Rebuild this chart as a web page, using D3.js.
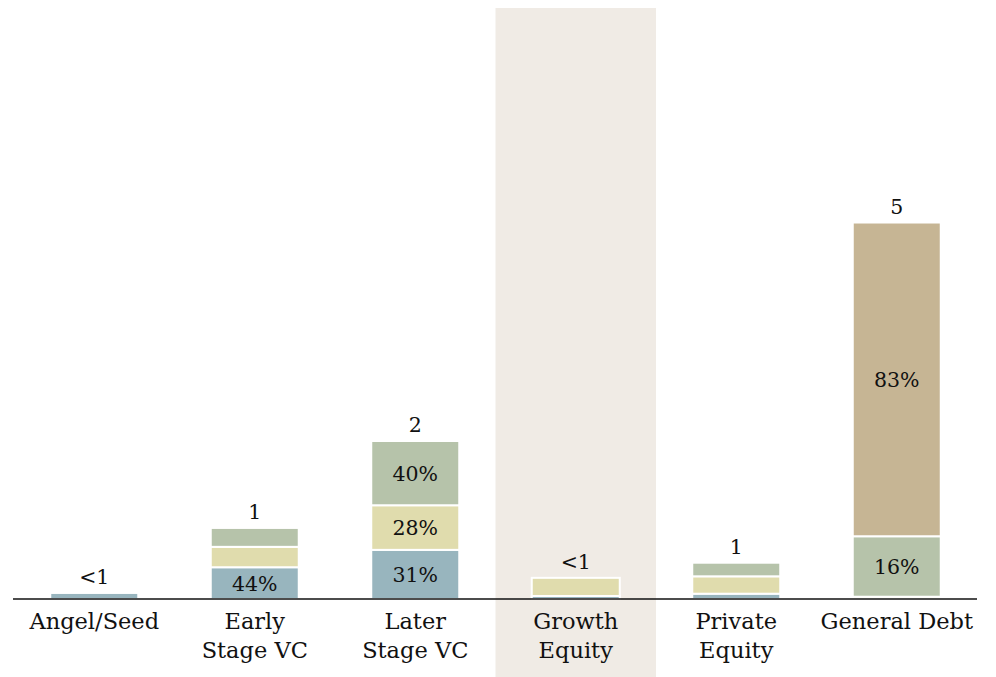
<!DOCTYPE html>
<html>
<head>
<meta charset="utf-8">
<script src="https://cdn.jsdelivr.net/npm/d3@7"></script>
<style>
  html, body { margin: 0; padding: 0; background: #fff; }
  svg { display: block; font-family: "DejaVu Serif", Georgia, serif; }
</style>
</head>
<body>
<svg id="chart" width="996" height="677"></svg>
<script>
// Investment categories along the x axis (two-line labels split on "\n")
const categories = ["Angel/Seed", "Early\nStage VC", "Later\nStage VC", "Growth\nEquity", "Private\nEquity", "General Debt"];
const categoryKeys = ["angel", "early", "later", "growth", "private", "debt"];

// Stacked segment values per category (bottom to top)
const seriesKeys = ["s1", "s2", "s3", "s4"];
const s1Values = [0.08, 0.42, 0.65, 0.04, 0.07, 0.00];
const s2Values = [0.00, 0.27, 0.59, 0.24, 0.23, 0.03];
const s3Values = [0.00, 0.25, 0.85, 0.00, 0.18, 0.80];
const s4Values = [0.00, 0.00, 0.00, 0.00, 0.00, 4.15];
const seriesColors = ["#98b5be", "#e0dcad", "#b6c3aa", "#c6b594"];

// Total labels over each bar
const totalLabels = ["<1", "1", "2", "<1", "1", "5"];

// Share labels written inside segments: [category index, series index, text]
const shareLabels = [
  [1, 0, "44%"],
  [2, 0, "31%"], [2, 1, "28%"], [2, 2, "40%"],
  [5, 2, "16%"], [5, 3, "83%"]
];

const highlighted = "growth";

const svg = d3.select("#chart");
const W = 996, H = 677;
const margin = { left: 14, right: 19, top: 8, bottom: 78 };
const baseY = H - margin.bottom;

const rows = categoryKeys.map((k, i) => ({
  key: k, s1: s1Values[i], s2: s2Values[i], s3: s3Values[i], s4: s4Values[i]
}));

const x = d3.scaleBand().domain(categoryKeys).range([margin.left, W - margin.right]).paddingInner(0).paddingOuter(0);
const y = d3.scaleLinear().domain([0, 5]).range([baseY, 221]);
const barW = 88;

// Highlight band behind one category
svg.append("rect")
  .attr("x", x(highlighted))
  .attr("y", margin.top)
  .attr("width", x.bandwidth())
  .attr("height", H - margin.top)
  .attr("fill", "#f0ebe5");

const stack = d3.stack().keys(seriesKeys);
const layers = stack(rows);

const g = svg.append("g");
layers.forEach((layer, si) => {
  g.selectAll(null)
    .data(layer.filter(d => d[1] - d[0] > 0))
    .join("rect")
    .attr("x", d => x(d.data.key) + (x.bandwidth() - barW) / 2)
    .attr("y", d => y(d[1]))
    .attr("width", barW)
    .attr("height", d => y(d[0]) - y(d[1]))
    .attr("fill", seriesColors[si])
    .attr("stroke", "#fff")
    .attr("stroke-width", 2);
});

// Percent labels centred in segments
shareLabels.forEach(([ci, si, txt]) => {
  const d = layers[si][ci];
  svg.append("text")
    .attr("x", x(categoryKeys[ci]) + x.bandwidth() / 2)
    .attr("y", (y(d[0]) + y(d[1])) / 2)
    .attr("dy", "0.36em")
    .attr("text-anchor", "middle")
    .attr("font-size", 20.5)
    .attr("fill", "#111")
    .text(txt);
});

// Totals above bars
rows.forEach((r, i) => {
  const top = layers[layers.length - 1][i][1];
  svg.append("text")
    .attr("x", x(r.key) + x.bandwidth() / 2)
    .attr("y", y(top) - 9)
    .attr("text-anchor", "middle")
    .attr("font-size", 20.5)
    .attr("fill", "#111")
    .text(totalLabels[i]);
});

// Baseline axis with category labels
const axis = d3.axisBottom(x).tickSize(0).tickFormat("");
const ax = svg.append("g").attr("transform", `translate(0,${baseY})`).call(axis);
ax.select(".domain").attr("stroke", "#111").attr("stroke-width", 1.5)
  .attr("d", `M${margin.left - 1},0H${W - margin.right}`);

categoryKeys.forEach((k, i) => {
  const lines = categories[i].split("\n");
  const t = svg.append("text")
    .attr("x", x(k) + x.bandwidth() / 2)
    .attr("y", baseY + 30)
    .attr("text-anchor", "middle")
    .attr("font-size", 22.5)
    .attr("fill", "#111");
  lines.forEach((ln, li) => {
    t.append("tspan").attr("x", x(k) + x.bandwidth() / 2).attr("dy", li === 0 ? 0 : 29).text(ln);
  });
});
</script>
</body>
</html>
